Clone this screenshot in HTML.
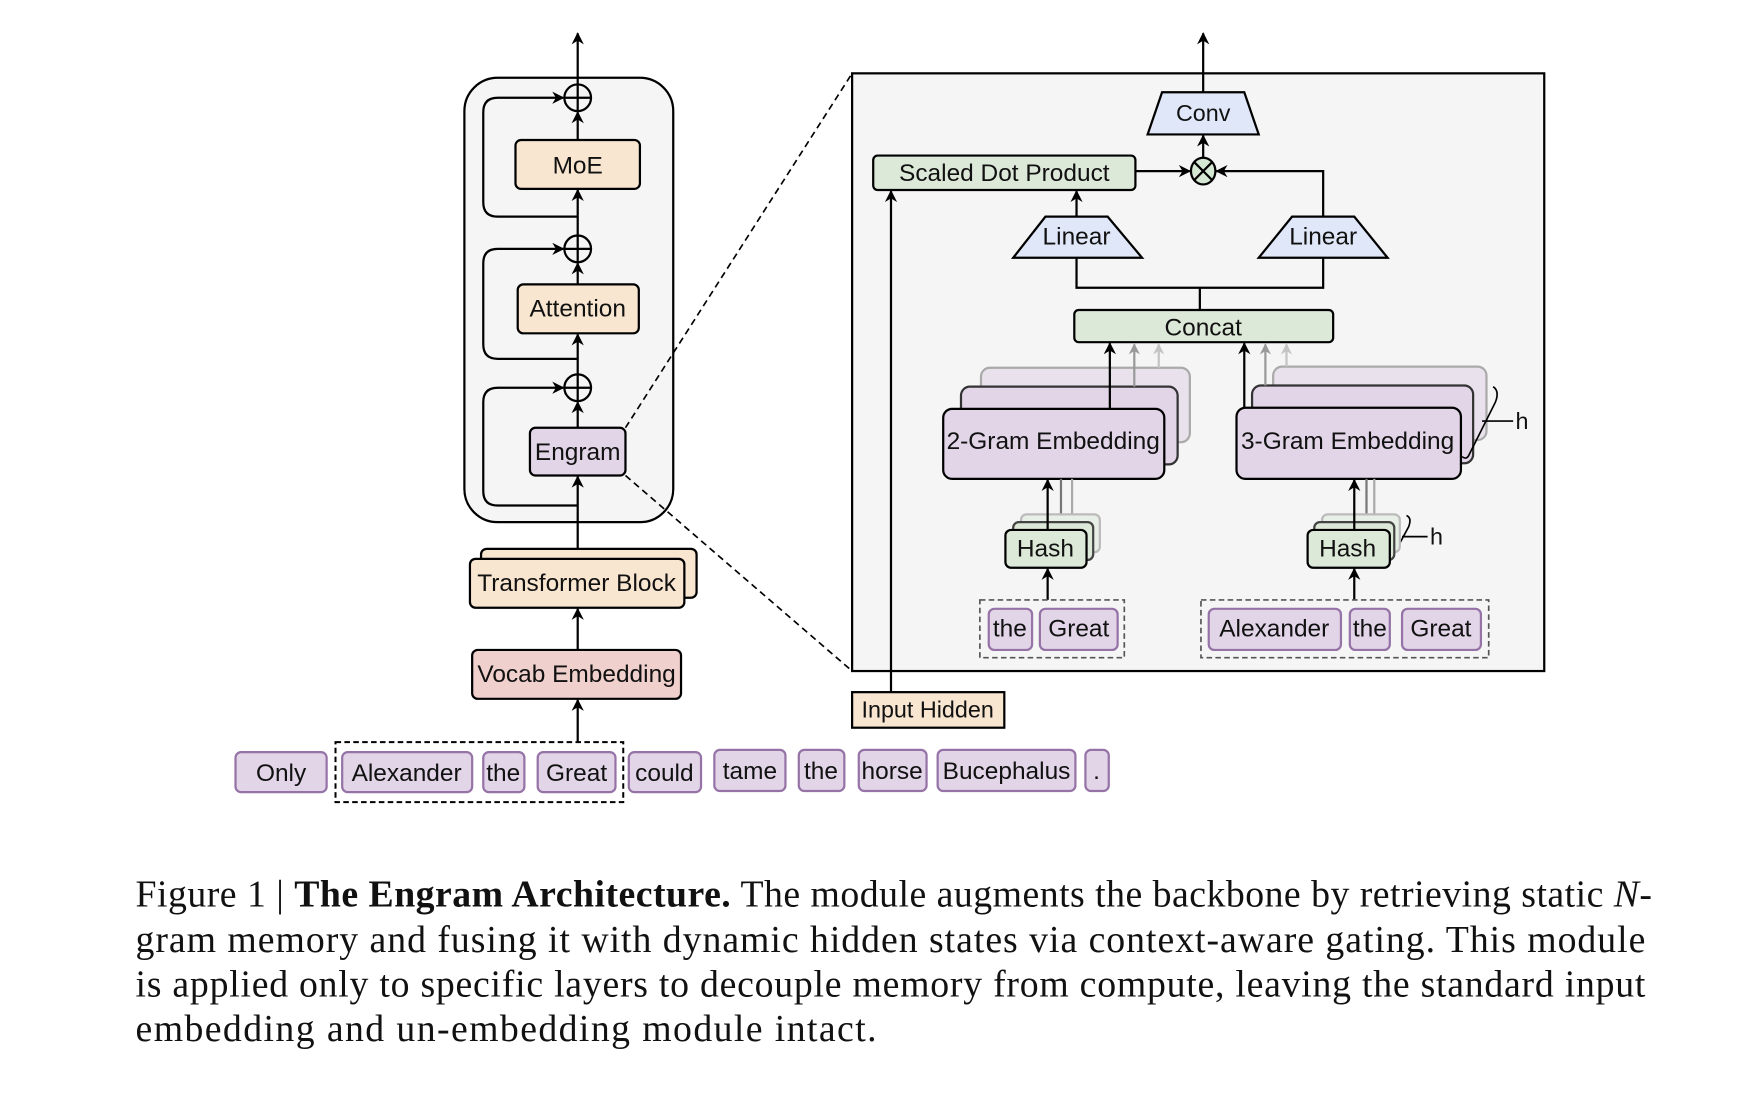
<!DOCTYPE html>
<html><head><meta charset="utf-8">
<style>
html,body{margin:0;padding:0;background:#fff;}
svg{display:block;}
text{font-family:"Liberation Sans",Arial,sans-serif;}
.cap{font-family:"Liberation Serif",serif;font-size:34px;fill:#111;}
</style></head><body>
<svg width="1742" height="1096" viewBox="0 0 1568 986.5" xmlns="http://www.w3.org/2000/svg">
<defs>
<marker id="a" viewBox="0 0 10 10" refX="9" refY="5" markerWidth="13" markerHeight="11" orient="auto-start-reverse" markerUnits="userSpaceOnUse">
<path d="M0,0 L10,5 L0,10 L3,5 z" fill="#000"/></marker>
<marker id="ag" viewBox="0 0 10 10" refX="9" refY="5" markerWidth="12" markerHeight="10" orient="auto" markerUnits="userSpaceOnUse">
<path d="M0,0 L10,5 L0,10 L3,5 z" fill="#999"/></marker>
<marker id="ag2" viewBox="0 0 10 10" refX="9" refY="5" markerWidth="12" markerHeight="10" orient="auto" markerUnits="userSpaceOnUse">
<path d="M0,0 L10,5 L0,10 L3,5 z" fill="#c4c4c4"/></marker>
</defs>
<g stroke="#000" stroke-width="2" fill="none">
<rect x="418" y="70" width="188" height="400" rx="30" fill="#f5f5f5"/>
<line x1="520" y1="76" x2="520" y2="30" marker-end="url(#a)"/>
<path d="M520,195 H448 Q435,195 435,182 V101 Q435,88 448,88 H507" marker-end="url(#a)"/>
<path d="M520,323 H448 Q435,323 435,310 V237 Q435,224 448,224 H507" marker-end="url(#a)"/>
<path d="M520,455 H448 Q435,455 435,442 V362 Q435,349 448,349 H507" marker-end="url(#a)"/>
<line x1="520" y1="126" x2="520" y2="101" marker-end="url(#a)"/>
<line x1="520" y1="212" x2="520" y2="171" marker-end="url(#a)"/>
<line x1="520" y1="256" x2="520" y2="237" marker-end="url(#a)"/>
<line x1="520" y1="337" x2="520" y2="301" marker-end="url(#a)"/>
<line x1="520" y1="385" x2="520" y2="362" marker-end="url(#a)"/>
<line x1="520" y1="503" x2="520" y2="429" marker-end="url(#a)"/>
<circle cx="520" cy="88" r="12" fill="#f5f5f5"/><path d="M508,88H532M520,76V100"/>
<circle cx="520" cy="224" r="12" fill="#f5f5f5"/><path d="M508,224H532M520,212V236"/>
<circle cx="520" cy="349" r="12" fill="#f5f5f5"/><path d="M508,349H532M520,337V361"/>
<rect x="464" y="126" width="112" height="44" rx="5" fill="#f9e6d1"/>
<rect x="466" y="256" width="109" height="44" rx="5" fill="#f9e6d1"/>
<rect x="477" y="385" width="86" height="43" rx="5" fill="#e1d5e7"/>
<rect x="433" y="494" width="194" height="44" rx="5" fill="#f9e6d1"/>
<rect x="423" y="503" width="193" height="44" rx="5" fill="#f9e6d1"/>
<rect x="425" y="585" width="188" height="44" rx="5" fill="#efd0cc"/>
<line x1="520" y1="585" x2="520" y2="548" marker-end="url(#a)"/>
<line x1="520" y1="668" x2="520" y2="630" marker-end="url(#a)"/>
<rect x="302" y="668" width="259" height="54" stroke-dasharray="5,3" stroke-width="1.8"/>
<line x1="563" y1="385" x2="767" y2="66" stroke-dasharray="6,4" stroke-width="1.5"/>
<line x1="563" y1="428" x2="767" y2="604" stroke-dasharray="6,4" stroke-width="1.5"/>
<rect x="767" y="66" width="623" height="538" fill="#f5f5f5"/>
<line x1="1083" y1="83" x2="1083" y2="30" marker-end="url(#a)"/>
<path d="M1046,83H1120L1133,121H1033Z" fill="#dfe7f8"/>
<line x1="1083" y1="143" x2="1083" y2="122" marker-end="url(#a)"/>
<ellipse cx="1083" cy="154" rx="11" ry="12" fill="#d5e8d4"/><path d="M1075,146L1091,162M1091,146L1075,162"/>
<rect x="786" y="140" width="236" height="31" rx="4" fill="#dde9d8"/>
<line x1="1022" y1="154" x2="1071" y2="154" marker-end="url(#a)"/>
<path d="M1191,195V154H1095" marker-end="url(#a)"/>
<line x1="969" y1="195" x2="969" y2="172" marker-end="url(#a)"/>
<path d="M941,195H997L1028,232H912Z" fill="#dfe7f8"/>
<path d="M1163,195H1219L1249,232H1133Z" fill="#dfe7f8"/>
<path d="M969,232V259H1191V232M1080,259V279"/>
<rect x="967" y="279" width="233" height="29" rx="4" fill="#dde9d8"/>
<rect x="883" y="331" width="188" height="67" rx="8" fill="#e9e2ec" stroke="#aaa"/>
<line x1="1043" y1="331" x2="1043" y2="310" stroke="#c4c4c4" marker-end="url(#ag2)"/>
<rect x="865" y="348" width="195" height="70" rx="8" fill="#e1d5e7" stroke="#333"/>
<line x1="1021" y1="348" x2="1021" y2="310" stroke="#999" marker-end="url(#ag)"/>
<rect x="849" y="368" width="199" height="63" rx="8" fill="#e1d5e7"/>
<line x1="999" y1="368" x2="999" y2="309" marker-end="url(#a)"/>
<rect x="1146" y="330" width="192" height="66" rx="8" fill="#e9e2ec" stroke="#aaa"/>
<line x1="1158" y1="330" x2="1158" y2="310" stroke="#c4c4c4" marker-end="url(#ag2)"/>
<rect x="1127" y="347" width="199" height="70" rx="8" fill="#e1d5e7" stroke="#333"/>
<line x1="1139" y1="347" x2="1139" y2="310" stroke="#999" marker-end="url(#ag)"/>
<rect x="1113" y="367" width="202" height="64" rx="8" fill="#e1d5e7"/>
<line x1="1120" y1="367" x2="1120" y2="309" marker-end="url(#a)"/>
<path d="M1344,348Q1350,352 1346,362L1322,410Q1320,414 1316,411" stroke-width="1.5"/>
<line x1="1334" y1="379" x2="1362" y2="379" stroke-width="1.5"/>
<path d="M1266,464Q1271,466 1268,474L1254,500Q1252,504 1248,500" stroke-width="1.5"/>
<line x1="1262" y1="483" x2="1285" y2="483" stroke-width="1.5"/>
<line x1="965" y1="463" x2="965" y2="431" stroke="#aaa"/>
<line x1="955" y1="470" x2="955" y2="431" stroke="#777"/>
<rect x="919" y="463" width="71" height="34" rx="5" fill="#e8efe6" stroke="#bbb"/>
<rect x="912" y="470" width="72" height="34" rx="5" fill="#dde9d8" stroke="#444"/>
<rect x="905" y="477" width="73" height="34" rx="5" fill="#dde9d8"/>
<line x1="943" y1="477" x2="943" y2="432" marker-end="url(#a)"/>
<line x1="943" y1="540" x2="943" y2="512" marker-end="url(#a)"/>
<line x1="1237" y1="463" x2="1237" y2="431" stroke="#aaa"/>
<line x1="1230" y1="470" x2="1230" y2="431" stroke="#777"/>
<rect x="1190" y="463" width="70" height="34" rx="5" fill="#e8efe6" stroke="#bbb"/>
<rect x="1183" y="470" width="72" height="34" rx="5" fill="#dde9d8" stroke="#444"/>
<rect x="1177" y="477" width="74" height="34" rx="5" fill="#dde9d8"/>
<line x1="1219" y1="477" x2="1219" y2="432" marker-end="url(#a)"/>
<line x1="1219" y1="540" x2="1219" y2="512" marker-end="url(#a)"/>
<rect x="882" y="540" width="130" height="52" stroke="#555" stroke-dasharray="5,3" stroke-width="1.5"/>
<rect x="1081" y="540" width="259" height="52" stroke="#555" stroke-dasharray="5,3" stroke-width="1.5"/>
<rect x="767" y="623" width="137" height="32" fill="#f9e6d1"/>
<line x1="802" y1="623" x2="802" y2="172" marker-end="url(#a)"/>
</g>
<g fill="#e1d5e7" stroke="#9673a6" stroke-width="2">
<rect x="890" y="548" width="39" height="37" rx="5"/><rect x="936" y="548" width="70" height="37" rx="5"/>
<rect x="1088" y="548" width="119" height="37" rx="5"/><rect x="1215" y="548" width="36" height="37" rx="5"/><rect x="1262" y="548" width="71" height="37" rx="5"/>
<rect x="212" y="677" width="82" height="36" rx="5"/><rect x="308" y="677" width="117" height="36" rx="5"/><rect x="435" y="677" width="37" height="36" rx="5"/><rect x="484" y="677" width="70" height="36" rx="5"/><rect x="566" y="677" width="65" height="36" rx="5"/>
<rect x="643" y="675" width="64" height="37" rx="5"/><rect x="719" y="675" width="41" height="37" rx="5"/><rect x="773" y="675" width="61" height="37" rx="5"/><rect x="844" y="675" width="124" height="37" rx="5"/><rect x="977" y="675" width="21" height="37" rx="5"/>
</g>
<g font-size="22" text-anchor="middle" fill="#111">
<text x="520" y="156">MoE</text>
<text x="520" y="285">Attention</text>
<text x="520" y="414">Engram</text>
<text x="519" y="532">Transformer Block</text>
<text x="519" y="614">Vocab Embedding</text>
<text x="253" y="703">Only</text><text x="366" y="703">Alexander</text><text x="453" y="703">the</text><text x="519" y="703">Great</text><text x="598" y="703">could</text>
<text x="675" y="701">tame</text><text x="739" y="701">the</text><text x="803" y="701">horse</text><text x="906" y="701">Bucephalus</text><text x="987" y="701">.</text>
<text x="1083" y="109" font-size="21">Conv</text>
<text x="904" y="163">Scaled Dot Product</text>
<text x="969" y="220">Linear</text>
<text x="1191" y="220">Linear</text>
<text x="1083" y="302">Concat</text>
<text x="948" y="404">2-Gram Embedding</text>
<text x="1213" y="404">3-Gram Embedding</text>
<text x="941" y="501">Hash</text>
<text x="1213" y="501">Hash</text>
<text x="909" y="573">the</text><text x="971" y="573">Great</text>
<text x="1147" y="573">Alexander</text><text x="1233" y="573">the</text><text x="1297" y="573">Great</text>
<text x="835" y="646" font-size="21">Input Hidden</text>
<text x="1370" y="386" font-size="21">h</text>
<text x="1293" y="490" font-size="21">h</text>
</g>
<text class="cap" x="122" y="816" textLength="1365" lengthAdjust="spacing">Figure 1 | <tspan font-weight="bold">The Engram Architecture.</tspan> The module augments the backbone by retrieving static <tspan font-style="italic">N</tspan>-</text>
<text class="cap" x="122" y="857" textLength="1359" lengthAdjust="spacing">gram memory and fusing it with dynamic hidden states via context-aware gating. This module</text>
<text class="cap" x="122" y="897" textLength="1359" lengthAdjust="spacing">is applied only to specific layers to decouple memory from compute, leaving the standard input</text>
<text class="cap" x="122" y="937" textLength="667" lengthAdjust="spacing">embedding and un-embedding module intact.</text>
</svg>
</body></html>
